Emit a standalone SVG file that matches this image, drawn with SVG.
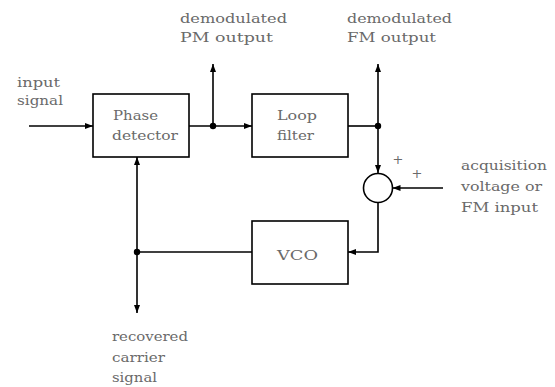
<svg xmlns="http://www.w3.org/2000/svg" width="555" height="387" viewBox="0 0 555 387">
<defs>
<marker id="arr" markerWidth="9" markerHeight="6" refX="8" refY="3" orient="auto" markerUnits="userSpaceOnUse">
<path d="M0,0 L8,3 L0,6 z" fill="#000"/>
</marker>
<style>
.box{fill:#fff;stroke:#000;stroke-width:1.6}
.ln{fill:none;stroke:#000;stroke-width:1.6}
.ar{marker-end:url(#arr)}
.t{font-family:"DejaVu Serif","Liberation Serif",serif;font-size:13px;fill:#6a6a6a}
.dot{fill:#000}
</style>
</defs>
<rect width="555" height="387" fill="#fff"/>
<g id="connectors">
<line class="ln ar" x1="29" y1="126" x2="93" y2="126"/>
<line class="ln ar" x1="189" y1="126" x2="252" y2="126"/>
<line class="ln ar" x1="213" y1="126" x2="213" y2="64"/>
<line class="ln" x1="348" y1="126" x2="378" y2="126"/>
<line class="ln ar" x1="378" y1="126" x2="378" y2="64"/>
<line class="ln ar" x1="378" y1="126" x2="378" y2="173"/>
<line class="ln ar" x1="443" y1="188" x2="392.5" y2="188"/>
<polyline class="ln ar" points="378,202.5 378,252 348,252"/>
<line class="ln" x1="252" y1="252" x2="137" y2="252"/>
<line class="ln ar" x1="137" y1="252" x2="137" y2="157"/>
<line class="ln ar" x1="137" y1="252" x2="137" y2="313"/>
<circle class="dot" cx="213" cy="126" r="3.2"/>
<circle class="dot" cx="378" cy="126" r="3.2"/>
<circle class="dot" cx="137" cy="252" r="3.2"/>
</g>
<g id="phase-detector">
<rect class="box" x="93" y="94" width="96" height="63"/>
<text class="t" x="113" y="120" textLength="45" lengthAdjust="spacingAndGlyphs">Phase</text>
<text class="t" x="112" y="140" textLength="66" lengthAdjust="spacingAndGlyphs">detector</text>
</g>
<g id="loop-filter">
<rect class="box" x="252" y="94" width="96" height="63"/>
<text class="t" x="277" y="120" textLength="40" lengthAdjust="spacingAndGlyphs">Loop</text>
<text class="t" x="277" y="140" textLength="37" lengthAdjust="spacingAndGlyphs">filter</text>
</g>
<g id="vco">
<rect class="box" x="252" y="221" width="96" height="63"/>
<text class="t" x="277" y="260" textLength="41" lengthAdjust="spacingAndGlyphs">VCO</text>
</g>
<g id="summer">
<circle class="box" cx="378" cy="188" r="14.5"/>
<text class="t" x="398" y="164" text-anchor="middle">+</text>
<text class="t" x="417" y="178" text-anchor="middle">+</text>
</g>
<g id="labels">
<text class="t" x="17" y="87" textLength="43" lengthAdjust="spacingAndGlyphs">input</text>
<text class="t" x="17" y="105" textLength="46" lengthAdjust="spacingAndGlyphs">signal</text>
<text class="t" x="180" y="23" textLength="107" lengthAdjust="spacingAndGlyphs">demodulated</text>
<text class="t" x="180" y="42" textLength="93" lengthAdjust="spacingAndGlyphs">PM output</text>
<text class="t" x="347" y="23" textLength="105" lengthAdjust="spacingAndGlyphs">demodulated</text>
<text class="t" x="347" y="42" textLength="89" lengthAdjust="spacingAndGlyphs">FM output</text>
<text class="t" x="461" y="170" textLength="86" lengthAdjust="spacingAndGlyphs">acquisition</text>
<text class="t" x="461" y="191" textLength="81" lengthAdjust="spacingAndGlyphs">voltage or</text>
<text class="t" x="461" y="212" textLength="77" lengthAdjust="spacingAndGlyphs">FM input</text>
<text class="t" x="112" y="341" textLength="76" lengthAdjust="spacingAndGlyphs">recovered</text>
<text class="t" x="112" y="362" textLength="53" lengthAdjust="spacingAndGlyphs">carrier</text>
<text class="t" x="112" y="382" textLength="45" lengthAdjust="spacingAndGlyphs">signal</text>
</g>
</svg>
